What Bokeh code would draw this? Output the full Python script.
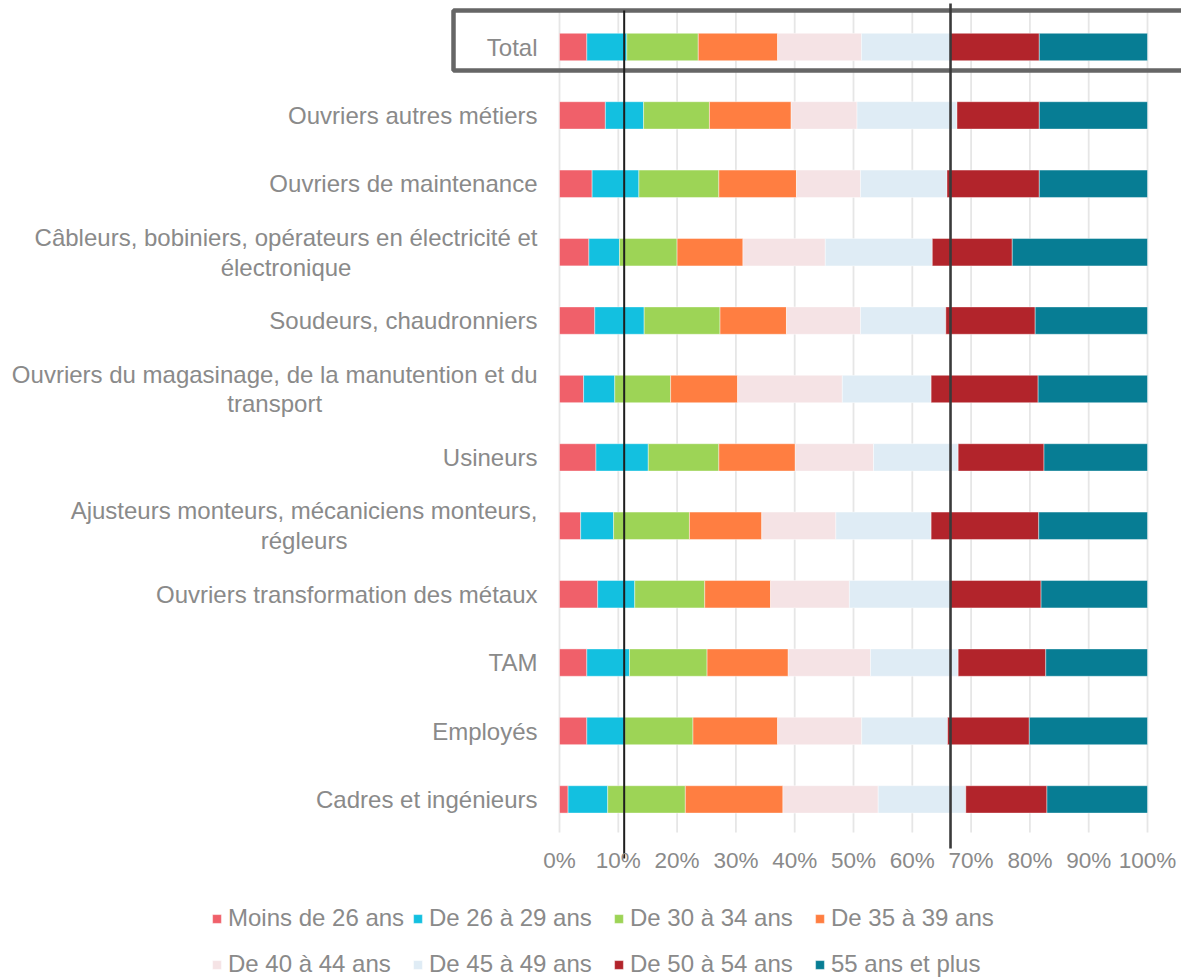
from bokeh.plotting import figure
from bokeh.models import Range1d, ColumnDataSource, Legend, LegendItem
from bokeh.core.properties import value
from bokeh.embed import file_html
from bokeh.resources import INLINE

# ---------------- data ----------------
categories = [
    "Total",
    "Ouvriers autres métiers",
    "Ouvriers de maintenance",
    "Câbleurs, bobiniers, opérateurs en électricité et électronique",
    "Soudeurs, chaudronniers",
    "Ouvriers du magasinage, de la manutention et du transport",
    "Usineurs",
    "Ajusteurs monteurs, mécaniciens monteurs, régleurs",
    "Ouvriers transformation des métaux",
    "TAM",
    "Employés",
    "Cadres et ingénieurs",
]
category_lines = [
    ["Total"],
    ["Ouvriers autres métiers"],
    ["Ouvriers de maintenance"],
    ["Câbleurs, bobiniers, opérateurs en électricité et", "électronique"],
    ["Soudeurs, chaudronniers"],
    ["Ouvriers du magasinage, de la manutention et du", "transport"],
    ["Usineurs"],
    ["Ajusteurs monteurs, mécaniciens monteurs,", "régleurs"],
    ["Ouvriers transformation des métaux"],
    ["TAM"],
    ["Employés"],
    ["Cadres et ingénieurs"],
]

series_names = ["Moins de 26 ans", "De 26 à 29 ans", "De 30 à 34 ans", "De 35 à 39 ans",
                "De 40 à 44 ans", "De 45 à 49 ans", "De 50 à 54 ans", "55 ans et plus"]

moins_26 = [4.65, 7.8, 5.55, 5.0, 6.0, 4.1, 6.2, 3.6, 6.5, 4.65, 4.65, 1.46]
de_26_29 = [6.8, 6.5, 7.95, 5.2, 8.4, 5.3, 8.9, 5.6, 6.3, 7.25, 6.45, 6.74]
de_30_34 = [12.15, 11.2, 13.6, 9.8, 12.9, 9.5, 12.0, 12.9, 11.9, 13.2, 11.6, 13.2]
de_35_39 = [13.5, 13.9, 13.2, 11.2, 11.3, 11.4, 13.0, 12.3, 11.2, 13.8, 14.4, 16.6]
de_40_44 = [14.25, 11.2, 10.9, 14.0, 12.6, 17.8, 13.3, 12.6, 13.4, 14.0, 14.3, 16.2]
de_45_49 = [15.15, 17.0, 14.7, 18.2, 14.5, 15.1, 14.4, 16.2, 17.2, 14.9, 14.6, 14.9]
de_50_54 = [15.1, 14.0, 15.7, 13.6, 15.2, 18.2, 14.6, 18.3, 15.4, 14.9, 13.9, 13.8]
plus_55 = [18.4, 18.4, 18.4, 23.0, 19.1, 18.6, 17.6, 18.5, 18.1, 17.3, 20.1, 17.1]

series_values = [moins_26, de_26_29, de_30_34, de_35_39, de_40_44, de_45_49, de_50_54, plus_55]
colors = ["#F0606A", "#13C0E0", "#9DD456", "#FF7E41", "#F5E3E5", "#DFECF5", "#B2242B", "#077D94"]

x_ticks = [0, 10, 20, 30, 40, 50, 60, 70, 80, 90, 100]
ref_lines = [11.0, 66.5]

# ---------------- layout helpers ----------------
W, H = 1181, 978
PX0, PX100 = 559.0, 1147.0
PPU = (PX100 - PX0) / 100.0
ROW0, ROWSTEP = 46.5, 68.4


def xd(px):
    return (px - PX0) / PPU


def yd(py):
    return (py - ROW0) / ROWSTEP


FONT = "Liberation Sans"
TXT = "#8A8A8A"
ARIAL = {' ': 278, ',': 278, '.': 278, '%': 889, 'a': 556, 'b': 556, 'c': 500, 'd': 556, 'e': 556,
         'f': 278, 'g': 556, 'h': 556, 'i': 222, 'j': 222, 'k': 500, 'l': 222, 'm': 833, 'n': 556,
         'o': 556, 'p': 556, 'q': 556, 'r': 333, 's': 500, 't': 278, 'u': 556, 'v': 500, 'w': 722,
         'x': 500, 'y': 500, 'z': 500, 'A': 667, 'C': 722, 'O': 778, 'E': 667, 'S': 667, 'T': 611,
         'U': 722}
ACC = {'â': 'a', 'à': 'a', 'é': 'e', 'è': 'e', 'ê': 'e', 'ç': 'c', 'î': 'i', 'ô': 'o', 'û': 'u'}


def text_w(s, size):
    return sum(ARIAL.get(ACC.get(c, c), 556) for c in s) * size / 1000.0


p = figure(width=W, height=H, x_range=Range1d(xd(0), xd(W)), y_range=Range1d(start=yd(H), end=yd(0)),
           x_axis_type=None, y_axis_type=None, toolbar_location=None, output_backend="svg",
           min_border=0, outline_line_color=None, background_fill_color="white")

n = len(categories)
ypos = list(range(n))

# gridlines
p.segment(x0=x_ticks, x1=x_ticks, y0=[yd(10)] * len(x_ticks), y1=[yd(832)] * len(x_ticks),
          line_color="#E6E6E6", line_width=1.8)

# bars
keys = ["s%d" % i for i in range(len(series_names))]
data = {"y": ypos, "cat": categories}
for k, v in zip(keys, series_values):
    data[k] = v
src = ColumnDataSource(data)
renderers = p.hbar_stack(keys, y="y", height=0.4, color=colors, source=src,
                         line_color="white", line_width=0.6, line_alpha=0.7)

# highlight box around the Total row
p.quad(left=[xd(453)], right=[xd(W + 200)], top=[yd(10)], bottom=[yd(70)],
       fill_alpha=0, line_color="#666666", line_width=4.5)

# reference lines
p.segment(x0=ref_lines, x1=ref_lines, y0=[yd(10), yd(3)], y1=[yd(858), yd(848)],
          line_color=["#1E1E1E", "#3A3A3A"], line_width=[2.0, 2.6])

# category labels
LBL_SIZE = 24
right_px = 22
single = [i for i in range(n) if len(category_lines[i]) == 1]
multi = [i for i in range(n) if len(category_lines[i]) > 1]
p.text(x=[0] * len(single), y=[ypos[i] for i in single], text=[category_lines[i][0] for i in single],
       x_offset=-right_px, text_align="right", text_baseline="middle",
       text_font=value(FONT), text_font_size="%dpx" % LBL_SIZE, text_color=TXT)
p.text(x=[0] * len(multi), y=[ypos[i] for i in multi], text=["\n".join(category_lines[i]) for i in multi],
       x_offset=[-right_px - text_w(category_lines[i][0], LBL_SIZE) / 2 for i in multi],
       text_align="center", text_baseline="middle", text_line_height=1.1,
       text_font=value(FONT), text_font_size="%dpx" % LBL_SIZE, text_color=TXT)

# x tick labels (kept inside the canvas)
TICK_SIZE = 22.5
tick_text = ["%d%%" % t for t in x_ticks]
tick_off = []
for t, s in zip(x_ticks, tick_text):
    cx = PX0 + t * PPU
    over = cx + text_w(s, TICK_SIZE) / 2 - (W - 3)
    tick_off.append(-over if over > 0 else 0)
p.text(x=x_ticks, y=[yd(860)] * len(x_ticks), text=tick_text, x_offset=tick_off,
       text_align="center", text_baseline="middle",
       text_font=value(FONT), text_font_size="%spx" % TICK_SIZE, text_color=TXT)

# legend (two rows)
items = [LegendItem(label=name, renderers=[r]) for name, r in zip(series_names, renderers)]
for row, yloc in ((0, 46), (1, 0)):
    lg = Legend(items=items[row * 4:(row + 1) * 4], location=(211, yloc), orientation="horizontal",
                glyph_width=11, glyph_height=11, label_standoff=6, label_width=178, spacing=6,
                padding=0, margin=0, border_line_color=None, background_fill_alpha=0,
                label_text_font=FONT, label_text_font_size="24px", label_text_color=TXT)
    p.add_layout(lg)

open("out.html", "w").write(file_html(p, INLINE))
